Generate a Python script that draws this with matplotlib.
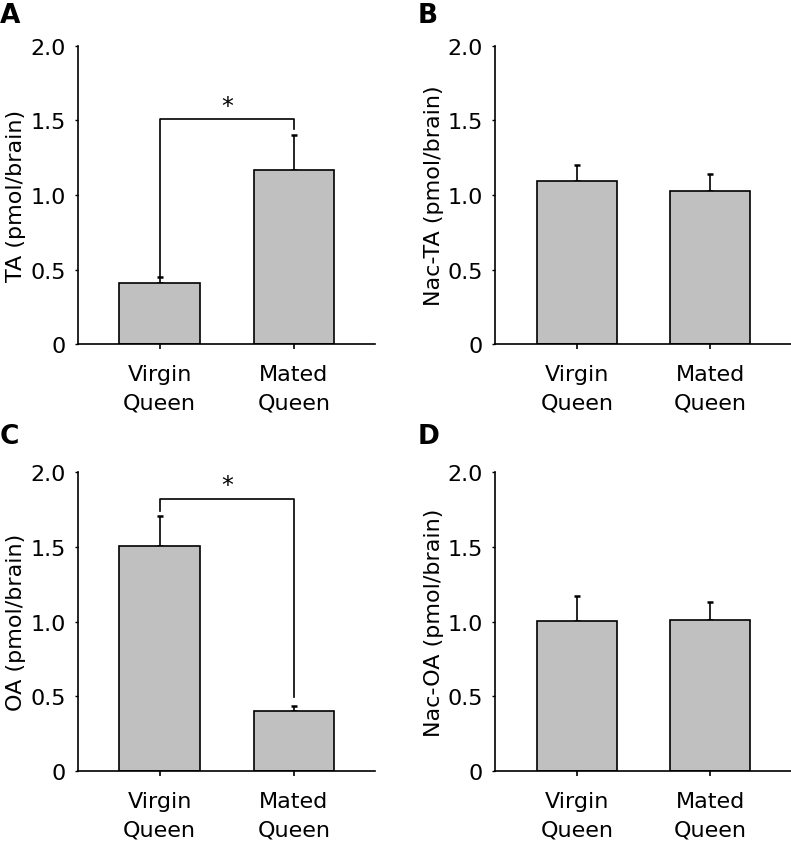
import matplotlib
matplotlib.use("Agg")
import matplotlib.pyplot as plt
import numpy as np

plt.rcParams['font.family'] = ['DejaVu Sans']

groups = ["Virgin\nQueen", "Mated\nQueen"]
ta_mean = [0.41, 1.17]
ta_err = [0.04, 0.23]
nacta_mean = [1.095, 1.027]
nacta_err = [0.105, 0.113]
oa_mean = [1.505, 0.40]
oa_err = [0.20, 0.035]
nacoa_mean = [1.003, 1.01]
nacoa_err = [0.167, 0.12]

# letter, ylabel, data, axes rect, bracket (top, left leg end, right leg end), letter y
panels = [
    ("A", "TA (pmol/brain)", ta_mean, ta_err, [0.098, 0.5917, 0.376, 0.3527], (1.51, 0.45, 1.44), 1 - 3 / 845),
    ("B", "Nac-TA (pmol/brain)", nacta_mean, nacta_err, [0.6258, 0.5917, 0.3742, 0.3527], None, 1 - 3 / 845),
    ("C", "OA (pmol/brain)", oa_mean, oa_err, [0.098, 0.0864, 0.376, 0.3538], (1.82, 1.74, 0.495), 1 - 424 / 845),
    ("D", "Nac-OA (pmol/brain)", nacoa_mean, nacoa_err, [0.6258, 0.0864, 0.3742, 0.3538], None, 1 - 424 / 845),
]

fig = plt.figure(figsize=(7.91, 8.45), dpi=100)
x = np.arange(len(groups))

for letter, ylabel, mean, err, pos, bracket, ly in panels:
    ax = fig.add_axes(pos)
    ax.bar(x, mean, width=0.6, color="#c0c0c0", edgecolor="black", linewidth=1.2, zorder=2)
    ax.errorbar(x, mean, yerr=[np.zeros(len(err)), err], fmt="none", ecolor="black",
                elinewidth=1.2, capsize=2.5, capthick=1.8, zorder=1)
    ax.set_xlim(-0.612, 1.604)
    ax.set_ylim(0, 2.0)
    ax.set_yticks([0, 0.5, 1.0, 1.5, 2.0])
    ax.set_yticklabels(["0", "0.5", "1.0", "1.5", "2.0"])
    ax.set_xticks(x)
    ax.set_xticklabels(groups, linespacing=1.5)
    ax.tick_params(axis="y", direction="out", length=2.5, width=1, labelsize=16, pad=6)
    ax.tick_params(axis="x", direction="out", length=3.5, width=1.2, labelsize=16, pad=11)
    for s in ["top", "right"]:
        ax.spines[s].set_visible(False)
    for s in ["left", "bottom"]:
        ax.spines[s].set_linewidth(1.2)
    ax.set_ylabel(ylabel, fontsize=16, labelpad=3)
    if bracket is not None:
        top, left_end, right_end = bracket
        ax.plot([0, 0, 1, 1], [left_end, top, top, right_end], color="black", lw=1.2)
        ax.text(0.5, top + 0.01, "*", ha="center", va="bottom", fontsize=17)
    fig.text(pos[0] - 0.098, ly, letter, fontsize=19,
             fontweight="bold", ha="left", va="top")

fig.savefig("out.png", dpi=100)
